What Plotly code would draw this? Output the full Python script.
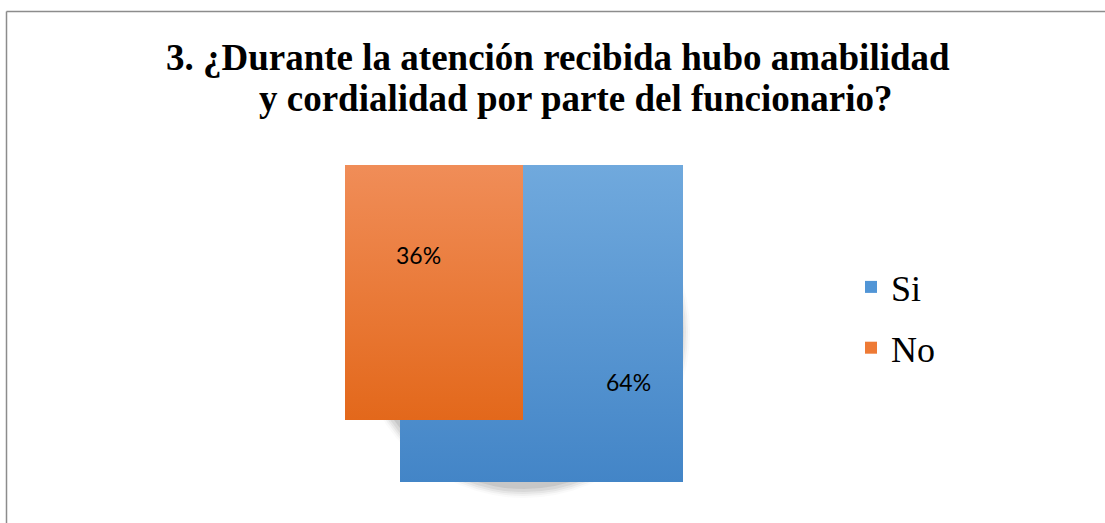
import plotly.graph_objects as go

# ---- data ----
categories = ["Si", "No"]
percent_values = [64, 36]
colors_top = {"Si": "#70A9DD", "No": "#F08D58"}
colors_bottom = {"Si": "#4385C7", "No": "#E3681B"}
legend_colors = {"Si": "#5195D6", "No": "#EE7A35"}

title_line1 = "3. ¿Durante la atención recibida hubo amabilidad"
title_line2 = "y cordialidad por parte del funcionario?"

# ---- geometry (pixel-like axis units, y downward) ----
W, H = 1105, 523
top = 165
orange_left, split_x, blue_right = 345, 523, 683
orange_bottom, blue_left_low, blue_bottom = 420, 400, 482

shapes_geom = {
    "Si": ([split_x, blue_right, blue_right, blue_left_low, blue_left_low, split_x, split_x],
           [top, top, blue_bottom, blue_bottom, orange_bottom, orange_bottom, top]),
    "No": ([orange_left, split_x, split_x, orange_left, orange_left],
           [top, top, orange_bottom, orange_bottom, top]),
}
bottoms = {"Si": blue_bottom, "No": orange_bottom}
label_pos = {"Si": (628, 382), "No": (418, 255)}

fig = go.Figure()

for cat in categories:
    xs, ys = shapes_geom[cat]
    fig.add_trace(go.Scatter(
        x=xs, y=ys, mode="lines", fill="toself",
        line=dict(width=0, color=colors_bottom[cat]),
        fillgradient=dict(type="vertical",
                          colorscale=[[0, colors_top[cat]], [1, colors_bottom[cat]]],
                          start=top, stop=bottoms[cat]),
        showlegend=False, hoverinfo="skip"))

# legend-only markers
for cat in categories:
    fig.add_trace(go.Scatter(
        x=[None], y=[None], mode="markers", name=cat,
        marker=dict(symbol="square", size=12, color=legend_colors[cat]),
        legendgroup=cat, showlegend=True))

# percentage labels
for cat, val in zip(categories, percent_values):
    x, y = label_pos[cat]
    fig.add_annotation(x=x, y=y, text=f"{val}%", showarrow=False,
                       font=dict(family="Lato", size=23, color="#000000"))

# soft shadow of the (hidden) pie
cx, cy, r = 524, 332, 159
shapes = []
for k, op in [(7, 0.03), (5, 0.05), (3, 0.07), (1, 0.09), (-2, 0.12)]:
    shapes.append(dict(type="circle", xref="x", yref="y", layer="below",
                       x0=cx - r - k, x1=cx + r + k, y0=cy - r - k, y1=cy + r + k,
                       fillcolor=f"rgba(80,80,80,{op})", line=dict(width=0)))
# frame lines
shapes.append(dict(type="line", xref="paper", yref="paper", x0=6.5 / W, x1=1, y0=1 - 11.5 / H, y1=1 - 11.5 / H,
                   line=dict(color="#8C8C8C", width=1.5)))
shapes.append(dict(type="line", xref="paper", yref="paper", x0=6.5 / W, x1=6.5 / W, y0=0, y1=1 - 11.5 / H,
                   line=dict(color="#8C8C8C", width=1.5)))

title_font = dict(family="Liberation Serif", size=37, color="#000000", weight="bold")
fig.add_annotation(x=558, y=57, xref="x", yref="y", text=title_line1,
                   showarrow=False, yanchor="middle", font=title_font)
fig.add_annotation(x=575, y=98, xref="x", yref="y", text=title_line2,
                   showarrow=False, yanchor="middle", font=title_font)

fig.update_layout(
    width=W, height=H,
    margin=dict(l=0, r=0, t=0, b=0),
    paper_bgcolor="white", plot_bgcolor="white",
    xaxis=dict(range=[0, W], visible=False, fixedrange=True),
    yaxis=dict(range=[H, 0], visible=False, fixedrange=True),
    shapes=shapes,
    showlegend=True,
    legend=dict(x=851 / W, y=1 - 257 / H, xanchor="left", yanchor="top",
                font=dict(family="Liberation Serif", size=36, color="#000000"),
                tracegroupgap=11, bgcolor="rgba(0,0,0,0)", itemsizing="constant"),
)

fig.write_html("out.html")
